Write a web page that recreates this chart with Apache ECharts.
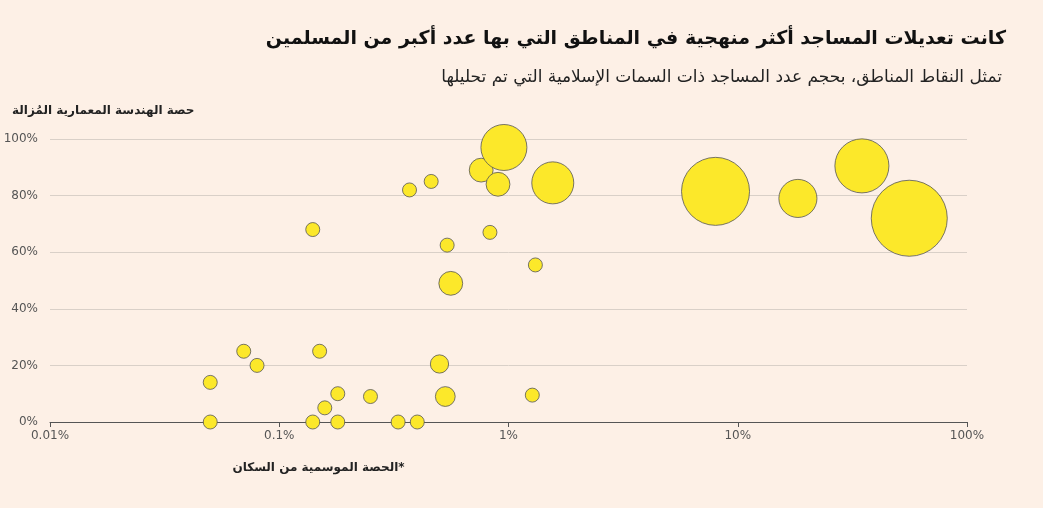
<!DOCTYPE html>
<html>
<head>
<meta charset="utf-8">
<script src="https://cdn.jsdelivr.net/npm/echarts@6/dist/echarts.min.js"></script>
<style>html,body{margin:0;background:#fdf0e6}#main{width:1043px;height:508px}</style>
</head>
<body>
<div id="main"></div>
<script>
var chartDom = document.getElementById('main');
var myChart = echarts.init(chartDom);
var option;

// الحصة الموسمية من السكان (%)
var populationShare = [0.05, 0.05, 0.07, 0.08, 0.14, 0.14, 0.15, 0.158, 0.18, 0.18,
    0.25, 0.33, 0.40, 0.37, 0.46, 0.50, 0.53, 0.54, 0.56, 0.76,
    0.83, 0.90, 0.955, 1.27, 1.31, 1.56, 8.0, 18.3, 34.8, 56];
// حصة الهندسة المعمارية المزالة (%)
var removedShare = [14, 0, 25, 20, 68, 0, 25, 5, 10, 0,
    9, 0, 0, 82, 85, 20.5, 9, 62.5, 49, 89,
    67, 84, 97, 9.5, 55.5, 84.5, 81.5, 79, 90.5, 72];
// عدد المساجد ذات السمات الإسلامية (تقديري)
var mosques = [10, 10, 10, 10, 10, 10, 10, 10, 10, 10,
    10, 10, 10, 10, 10, 17, 20, 10, 29, 29,
    10, 29, 108, 10, 10, 90, 236, 74, 149, 295];
var yTicks = [0, 20, 40, 60, 80, 100];

var font = 'DejaVu Sans';

option = {
    backgroundColor: '#fdf0e6',
    title: [
        {
            text: 'كانت تعديلات المساجد أكثر منهجية في المناطق التي بها عدد أكبر من المسلمين',
            right: 32, top: 25,
            textStyle: { fontFamily: font, fontSize: 19, fontWeight: 'bold', color: '#111' }
        },
        {
            text: 'تمثل النقاط المناطق، بحجم عدد المساجد ذات السمات الإسلامية التي تم تحليلها',
            right: 36, top: 64,
            textStyle: { fontFamily: font, fontSize: 17, fontWeight: 'normal', color: '#222' }
        }
    ],
    graphic: [
        {
            type: 'text', left: 12, top: 105,
            style: { text: 'حصة الهندسة المعمارية المُزالة', fontFamily: font, fontSize: 12, fontWeight: 'bold', fill: '#222' }
        }
    ],
    grid: { left: 50, right: 76, top: 139, bottom: 86 },
    xAxis: {
        type: 'log',
        logBase: 10,
        min: 0.01,
        max: 100,
        name: 'الحصة الموسمية من السكان*',
        nameLocation: 'middle',
        nameGap: 40,
        nameTextStyle: { fontFamily: font, fontSize: 12, fontWeight: 'bold', color: '#222', padding: [0, 0, 0, -380] },
        axisLine: { lineStyle: { color: '#555' } },
        axisTick: { show: true, length: 5, lineStyle: { color: '#555' } },
        splitLine: { show: false },
        minorTick: { show: false },
        axisLabel: {
            fontFamily: font, fontSize: 12, color: '#555',
            formatter: function (v) { return v + '%'; }
        }
    },
    yAxis: {
        type: 'value',
        min: yTicks[0],
        max: yTicks[yTicks.length - 1],
        interval: 20,
        axisLine: { show: false },
        axisTick: { show: false },
        splitLine: { lineStyle: { color: '#d9d0c8' } },
        axisLabel: {
            fontFamily: font, fontSize: 12, color: '#555', margin: 12,
            formatter: function (v) { return v + '%'; }
        }
    },
    series: [
        {
            type: 'scatter',
            data: populationShare.map(function (x, i) {
                return [x, removedShare[i], mosques[i]];
            }),
            symbolSize: function (d) { return 14 * Math.sqrt(d[2] / 10); },
            itemStyle: { color: '#fce82a', borderColor: '#555', borderWidth: 0.8, opacity: 1 }
        }
    ]
};

option && myChart.setOption(option);
</script>
</body>
</html>
